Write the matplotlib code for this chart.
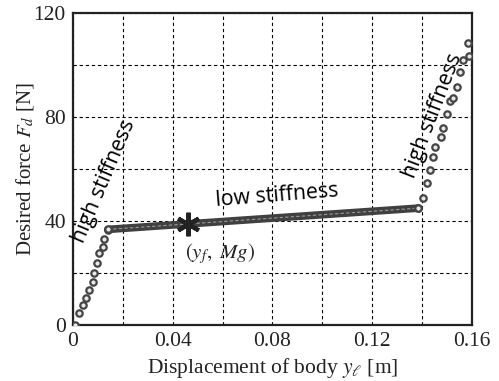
import matplotlib
matplotlib.use("Agg")
import matplotlib.pyplot as plt
import numpy as np

# Data
high1_x = [0.0008, 0.0024, 0.0040, 0.0052, 0.0064, 0.0080, 0.0084, 0.0096, 0.0104, 0.0120, 0.0124, 0.0140]
high1_y = [0.0, 4.6, 7.7, 10.4, 13.5, 16.5, 20.0, 23.8, 27.7, 30.0, 33.1, 36.5]
low_x = [0.0140, 0.1385]
low_y = [36.8, 45.0]
high2_x = [0.1385, 0.1404, 0.1420, 0.1432, 0.1444, 0.1452, 0.1476, 0.1484, 0.1500, 0.1512,
           0.1524, 0.1540, 0.1552, 0.1564, 0.1586, 0.1584]
high2_y = [45.0, 48.8, 54.6, 59.6, 64.6, 68.5, 72.3, 75.8, 81.2, 86.2,
           87.3, 91.5, 97.3, 101.9, 103.5, 108.5]
eq_x, eq_y = 0.0461, 39.0
xticks_all = [0, 0.02, 0.04, 0.06, 0.08, 0.10, 0.12, 0.14, 0.16]
xtick_labels = ["0", "", "0.04", "", "0.08", "", "0.12", "", "0.16"]
yticks_all = [0, 20, 40, 60, 80, 100, 120]
ytick_labels = ["0", "", "40", "", "80", "", "120"]

plt.rcParams['mathtext.fontset'] = 'stix'
serif = ['Liberation Serif', 'DejaVu Serif']
txtc = '#222222'

fig = plt.figure(figsize=(4.99, 3.81), dpi=100)
ax = fig.add_axes([0.146, 0.147, 0.8, 0.818])

ax.set_xlim(0, 0.16)
ax.set_ylim(0, 120)
ax.set_xticks(xticks_all)
ax.set_xticklabels(xtick_labels, fontfamily=serif, fontsize=15.5, color=txtc)
ax.set_yticks(yticks_all)
ax.set_yticklabels(ytick_labels, fontfamily=serif, fontsize=15.5, color=txtc)
ax.tick_params(axis='x', length=0, pad=5)
ax.tick_params(axis='y', length=0, pad=5)
ax.grid(True, color='black', linestyle=(0, (3, 2.5)), linewidth=0.8)
for s in ax.spines.values():
    s.set_linewidth(1.6)
    s.set_color(txtc)

mk = dict(marker='o', markersize=4.6, markerfacecolor='#e8e8e8', markeredgecolor='#444444',
          markeredgewidth=1.6, linestyle='none', zorder=4)
ax.plot(high1_x, high1_y, **mk)
ax.plot(high2_x, high2_y, **mk)
ax.plot(low_x, low_y, color='#404040', linewidth=5.5, solid_capstyle='round', zorder=3)
ax.plot(low_x, low_y, color='#9a9a9a', linewidth=0.8, linestyle=(0, (3, 2)), zorder=3.5)
ax.plot([low_x[0]], [low_y[0]], **mk)
ax.plot([low_x[1]], [low_y[1]], **mk)

ax.plot([eq_x], [eq_y], marker=(6, 2, 0), markersize=17, markeredgewidth=3.0,
        color=txtc, linestyle='none', zorder=5)
ax.text(0.059, 27.7, r'$(y_f,\ Mg)$', fontsize=15, ha='center', va='center', color=txtc)

sans = ['Open Sans', 'DejaVu Sans']
ax.text(0.0126, 55.4, 'high stiffness', fontfamily=sans, fontsize=15.3, rotation=67,
        ha='center', va='center', rotation_mode='anchor', color='black')
ax.text(0.1441, 80.4, 'high stiffness', fontfamily=sans, fontsize=15.3, rotation=69,
        ha='center', va='center', rotation_mode='anchor', color='black')
ax.text(0.0818, 49.6, 'low stiffness', fontfamily=sans, fontsize=15.3, rotation=4.5,
        ha='center', va='center', rotation_mode='anchor', color='black')

ax.set_xlabel(r'Displacement of body $y_\ell$ [m]', fontfamily=serif, fontsize=15.5, color=txtc)
ax.set_ylabel(r'Desired force $F_d$ [N]', fontfamily=serif, fontsize=15, color=txtc)
ax.xaxis.set_label_coords(0.5, -0.1)
ax.yaxis.set_label_coords(-0.092, 0.5)

fig.savefig('out.png', dpi=100)
